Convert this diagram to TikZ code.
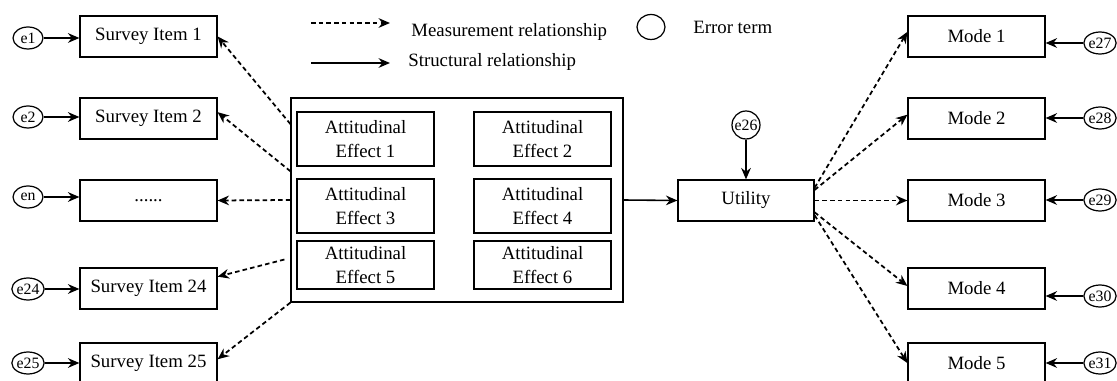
\documentclass[tikz,border=0pt]{standalone}
\usepackage{fontspec}
\setmainfont{Liberation Serif}
\usetikzlibrary{arrows.meta,shapes.geometric,calc}

\newcommand{\gapdots}{......}
\tikzset{
  box/.style={draw, line width=0.7pt, minimum width=2.74cm, minimum height=0.82cm, inner sep=1pt, font=\fontsize{10.7}{13.6}\selectfont},
  inbox/.style={box, minimum height=1.08cm, align=center},
  err/.style={draw, ellipse, line width=0.7pt, minimum width=0.6cm, minimum height=0.44cm, inner sep=0pt, font=\fontsize{9}{10}\selectfont},
  struct/.style={-{Stealth[length=6.5pt,width=5.5pt]}, line width=0.9pt},
  meas/.style={struct, line width=1pt, dash pattern=on 2.6pt off 1.8pt},
  legtxt/.style={anchor=west, inner sep=0pt, font=\fontsize{10.7}{13}\selectfont}
}

\begin{document}
\begin{tikzpicture}[x=0.02cm, y=-0.02cm]
	\useasboundingbox (0,0) rectangle (1117,381);
	% Legend
	\coordinate (lm1) at (311,23); \coordinate (lm2) at (390,23);
	\coordinate (ls1) at (311,63); \coordinate (ls2) at (390,63);
	\draw[meas] (lm1) -- (lm2);
	\draw[struct] (ls1) -- (ls2);
	\node[legtxt] (lmtxt) at (411,32) {Measurement relationship};
	\node[legtxt] (lstxt) at (408,62) {Structural relationship};
	\node[err, minimum width=0.56cm, minimum height=0.5cm] (lerr) at (651,27) {};
	\node[legtxt] (letxt) at (693,27) {Error term};
	
	% Attitudinal effects
	\node[draw, line width=0.7pt, minimum width=6.64cm, minimum height=4.08cm] (att) at (457,200) {};
	\foreach \i/\x/\y in {1/365.5/139, 2/542.5/139, 3/365.5/206, 4/542.5/206} {
		\node[inbox] (a\i) at (\x,\y) {Attitudinal\\Effect \i};
	}
	\foreach \i/\x in {5/365.5, 6/542.5} {
		\node[inbox, minimum height=0.96cm] (a\i) at (\x,265) {Attitudinal\\Effect \i};
	}
	
	% Survey items (left)
	\foreach \i/\lab/\y/\err/\ey in {1/Survey Item 1/36.5/e1/38, 2/Survey Item 2/118.5/e2/117, 3/\gapdots/200.5/en/197, 4/Survey Item 24/288.5/e24/289, 5/Survey Item 25/363.5/e25/363} {
		\node[box] (s\i) at (148.5,\y) {\lab};
		\node[err] (es\i) at (28,\ey) {\err};
		\draw[struct] (es\i) -- (es\i -| s\i.west);
	}
	\foreach \i/\a/\b in {1/0.13/0.5, 2/0.36/0.35, 3/0.5/0.5, 5/1/0.4} {
		\draw[meas] ($(att.north west)!\a!(att.south west)$) -- ($(s\i.north east)!\b!(s\i.south east)$);
	}
	\draw[meas] ($(att.north west)!0.79!(att.south west) + (-6,0)$) -- ($(s4.north east)!0.22!(s4.south east)$);
	
	% Utility
	\node[box, minimum width=2.72cm] (util) at (746,200.5) {Utility};
	\node[err, circle, minimum size=0.56cm] (e26) at (746,125) {e26};
	\draw[struct] (e26) -- (util);
	\draw[struct] (att.east) -- (util.west);
	
	% Modes (right)
	\foreach \i/\y/\err/\ey in {1/36.5/e27/43, 2/118.5/e28/118, 3/200.5/e29/200, 4/288.5/e30/296, 5/363.5/e31/363} {
		\node[box] (m\i) at (976.5,\y) {Mode \i};
		\node[err] (em\i) at (1100,\ey) {\err};
		\draw[struct] (em\i) -- (em\i -| m\i.east);
	}
	\foreach \i/\a/\b in {1/0.2/0.39, 2/0.25/0.41, 3/0.5/0.5, 4/0.78/0.44, 5/0.85/0.49} {
		\draw[meas] ($(util.north east)!\a!(util.south east)$) -- ($(m\i.north west)!\b!(m\i.south west)$);
	}
\end{tikzpicture}
\end{document}
